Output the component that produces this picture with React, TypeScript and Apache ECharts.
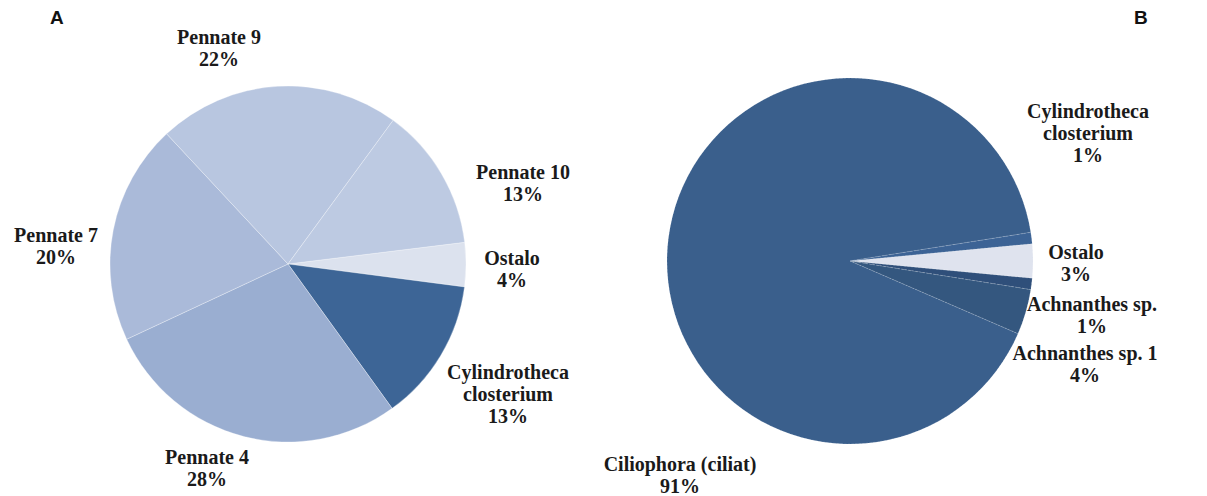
import React, { useEffect, useRef } from "react";
import * as echarts from "echarts";

// ---- Data ----
const namesA = ["Ostalo", "Cylindrotheca\nclosterium", "Pennate 4", "Pennate 7", "Pennate 9", "Pennate 10"];
const valuesA = [4, 13, 28, 20, 22, 13];

const namesB = ["Ostalo", "Achnanthes sp.", "Achnanthes sp. 1", "Ciliophora (ciliat)", "Cylindrotheca\nclosterium"];
const valuesB = [3, 1, 4, 91, 1];

const panelTitles = ["A", "B"];

// ---- Styles / layout ----
const colorsA = ["#dce2ee", "#3d6596", "#9aaed1", "#aabad9", "#b8c6e0", "#bdcae2"];
const colorsB = ["#dfe3ee", "#2f4f7a", "#34577f", "#3a5f8c", "#3c6395"];

// label centre positions (layout only)
const labelPosA = [
  [512, 269],
  [508, 394],
  [207, 468],
  [56, 246],
  [219, 48],
  [523, 183],
];
const labelPosB = [
  [1076, 263],
  [1092, 315],
  [1085, 364],
  [680, 475],
  [1088, 133],
];

const labelStyle = {
  show: true,
  formatter: "{b}\n{d}%",
  fontFamily: "'Liberation Serif', 'Times New Roman', serif",
  fontWeight: "bold",
  fontSize: 20,
  lineHeight: 22,
  color: "#1a1a1a",
  align: "center",
  overflow: "none",
  width: 300,
};

export default function App() {
  const ref = useRef<HTMLDivElement>(null);
  useEffect(() => {
    document.body.style.margin = "0";
    if (!ref.current) return;
    const chart = echarts.init(ref.current, undefined, { renderer: "svg" });
    const mk = (names: string[], values: number[], colors: string[]) =>
      names.map((n, i) => ({ name: n, value: values[i], itemStyle: { color: colors[i] } }));
    chart.setOption({
      animation: false,
      backgroundColor: "#ffffff",
      graphic: [
        {
          type: "text",
          left: 50,
          top: 8,
          style: {
            text: panelTitles[0],
            fontFamily: "'Liberation Sans', Arial, sans-serif",
            fontWeight: "bold",
            fontSize: 19,
            fill: "#111",
          },
        },
        {
          type: "text",
          left: 1134,
          top: 8,
          style: {
            text: panelTitles[1],
            fontFamily: "'Liberation Sans', Arial, sans-serif",
            fontWeight: "bold",
            fontSize: 19,
            fill: "#111",
          },
        },
      ],
      series: [
        {
          type: "pie",
          center: [288, 264],
          radius: 178,
          startAngle: 7,
          clockwise: true,
          data: mk(namesA, valuesA, colorsA),
          label: { ...labelStyle, position: "outside", edgeDistance: 0 },
          labelLine: { show: false },
          itemStyle: { borderColor: "rgba(255,255,255,0.5)", borderWidth: 0.6 },
          emphasis: { disabled: true },
          labelLayout: (p: any) => ({
            x: labelPosA[p.dataIndex][0],
            y: labelPosA[p.dataIndex][1],
            align: "center",
            verticalAlign: "middle",
          }),
        },
        {
          type: "pie",
          center: [850, 261],
          radius: 183,
          startAngle: 5.4,
          clockwise: true,
          data: mk(namesB, valuesB, colorsB),
          label: { ...labelStyle, position: "outside", edgeDistance: 0 },
          labelLine: { show: false },
          itemStyle: { borderColor: "rgba(255,255,255,0.3)", borderWidth: 0.6, borderType: "dashed" },
          emphasis: { disabled: true },
          labelLayout: (p: any) => ({
            x: labelPosB[p.dataIndex][0],
            y: labelPosB[p.dataIndex][1],
            align: "center",
            verticalAlign: "middle",
          }),
        },
      ],
    });
    return () => chart.dispose();
  }, []);
  return <div ref={ref} style={{ width: 1207, height: 496 }} />;
}
